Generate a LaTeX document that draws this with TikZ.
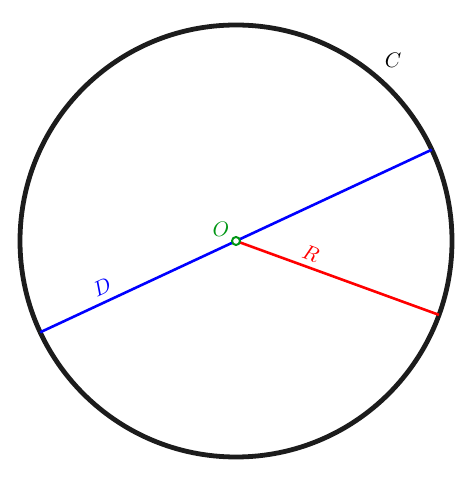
\documentclass[tikz,border=0pt]{standalone}
\usepackage{tikz}
\definecolor{ptgreen}{RGB}{0,150,20}
\definecolor{circgray}{RGB}{28,28,28}
\begin{document}
\begin{tikzpicture}[x=1pt,y=1pt,
  lbl/.style={scale=2.1, inner sep=0pt},
  circ/.style={draw=circgray, line width=4.8pt},
  diam/.style={draw=blue, line width=2.6pt},
  rad/.style={draw=red, line width=2.6pt}]
\useasboundingbox (0,0) rectangle (474,478);
\coordinate (O) at (236,237);
\coordinate (A) at ([shift={(O)}]25:216);
\coordinate (B) at ([shift={(O)}]205:216);
\coordinate (P) at ([shift={(O)}]-20:216);
\draw[circ] (O) circle (216);
\draw[diam] (B) -- (A);
\draw[rad] (O) -- (P);
\draw[ptgreen, line width=2pt, fill=white] (O) circle (4);
\node[lbl, text=ptgreen] (lo) at (221,249) {$O$};
\node[lbl] (lc) at (393,418) {$C$};
\node[lbl, text=blue, rotate=25] (ld) at (102,191) {$D$};
\node[lbl, text=red, rotate=-20] (lr) at (311,224) {$R$};
\end{tikzpicture}
\end{document}
